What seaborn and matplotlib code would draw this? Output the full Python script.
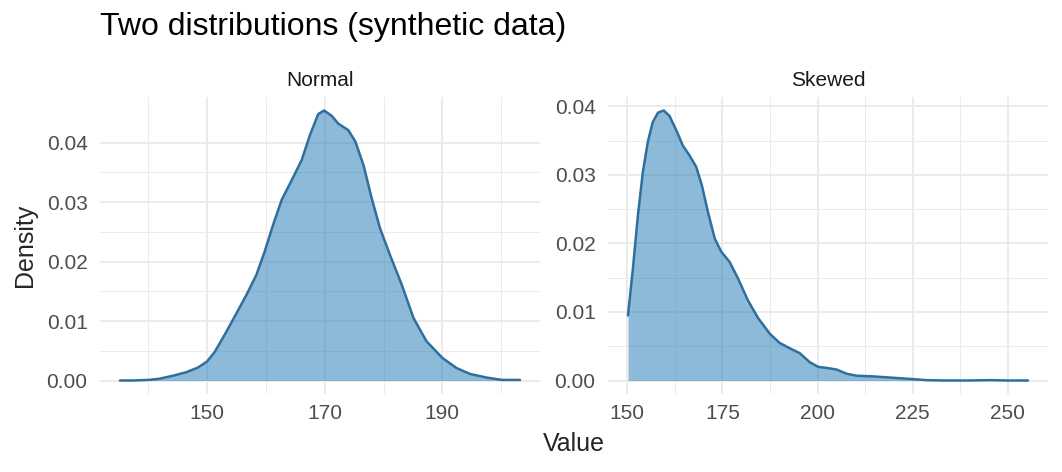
import numpy as np
import pandas as pd
import seaborn as sns
import matplotlib.pyplot as plt
from matplotlib.ticker import FixedLocator, FormatStrFormatter

# density curves
normal_x = [135.2, 137.4, 140.1, 141.9, 144.2, 146.5, 148.5, 150.0, 151.3, 153.0,
            155.0, 156.7, 158.4, 159.8, 161.3, 162.7, 164.4, 166.1, 167.5, 168.9,
            169.9, 171.2, 172.3, 174.0, 175.2, 176.6, 178.0, 179.4, 181.1, 183.1,
            185.1, 187.3, 190.0, 192.4, 194.7, 197.5, 200.1, 203.2]
normal_d = [0.0, 0.0, 0.0001, 0.0003, 0.0008, 0.0014, 0.0022, 0.0032, 0.0048, 0.0077,
            0.0113, 0.0144, 0.0178, 0.0217, 0.0264, 0.0304, 0.0337, 0.0371, 0.0413, 0.0448,
            0.0454, 0.0445, 0.0432, 0.0421, 0.0402, 0.0362, 0.0306, 0.0256, 0.0211, 0.0161,
            0.0105, 0.0066, 0.0038, 0.0021, 0.0011, 0.0005, 0.0001, 0.0001]

skewed_x = [150.2, 151.5, 152.8, 154.1, 155.4, 156.7, 158.1, 159.6, 161.1, 162.9,
            164.6, 166.4, 168.1, 169.6, 171.2, 173.0, 174.7, 176.9, 179.1, 181.7,
            184.4, 187.5, 190.0, 192.7, 195.3, 197.9, 200.1, 202.8, 205.0, 207.6,
            210.2, 214.6, 219.9, 225.1, 228.7, 233.9, 239.2, 245.4, 250.0, 255.3]
skewed_d = [0.0095, 0.0164, 0.0241, 0.0304, 0.0348, 0.0377, 0.0391, 0.0394, 0.0386, 0.0365,
            0.0343, 0.0328, 0.0312, 0.0285, 0.0246, 0.0207, 0.0188, 0.0173, 0.0149, 0.0117,
            0.0091, 0.0068, 0.0055, 0.0047, 0.0040, 0.0027, 0.0020, 0.0018, 0.0016, 0.0010,
            0.0007, 0.0006, 0.0004, 0.0002, 0.00005, 0.0, 0.0, 0.00005, 0.0, 0.0]

panels = ["Normal", "Skewed"]
x_major = [[150, 170, 190], [150, 175, 200, 225, 250]]
x_minor = [[140, 160, 180, 200], [162.5, 187.5, 212.5, 237.5]]
y_major = [0.0, 0.01, 0.02, 0.03, 0.04]
y_minor = [0.005, 0.015, 0.025, 0.035]

line_col = "#2e6f9e"
fill_col = "#1f77b4"

sns.set_theme(style="white")
plt.rcParams["font.family"] = ["Liberation Sans", "DejaVu Sans"]

fig = plt.figure(figsize=(10.62, 4.72), dpi=100)
W, H = 1062, 472
ax1 = fig.add_axes([100 / W, 1 - 394 / H, 440 / W, 297 / H])
ax2 = fig.add_axes([608 / W, 1 - 394 / H, 440 / W, 297 / H])

data = [(normal_x, normal_d), (skewed_x, skewed_d)]
for i, ax in enumerate([ax1, ax2]):
    df = pd.DataFrame({"x": data[i][0], "d": data[i][1]})
    ax.fill_between(df["x"], 0, df["d"], color=fill_col, alpha=0.5, lw=0, zorder=2)
    sns.lineplot(data=df, x="x", y="d", ax=ax, color=line_col, lw=1.8, zorder=3)
    ax.margins(x=0.05, y=0.05)
    ax.xaxis.set_major_locator(FixedLocator(x_major[i]))
    ax.xaxis.set_minor_locator(FixedLocator(x_minor[i]))
    ax.yaxis.set_major_locator(FixedLocator(y_major))
    ax.yaxis.set_minor_locator(FixedLocator(y_minor))
    ax.yaxis.set_major_formatter(FormatStrFormatter("%.2f"))
    ax.grid(which="major", color="#ebebeb", lw=1.4, zorder=0)
    ax.grid(which="minor", color="#ebebeb", lw=0.7, zorder=0)
    ax.set_axisbelow(True)
    for s in ax.spines.values():
        s.set_visible(False)
    ax.tick_params(which="both", length=0, labelsize=15, labelcolor="#4d4d4d")
    ax.tick_params(axis="y", pad=9)
    ax.tick_params(axis="x", pad=7)
    ax.set_xlabel("")
    ax.set_ylabel("")
    ax.set_title(panels[i], fontsize=15, color="#1a1a1a", pad=8)

fig.text(100 / W, 1 - 35 / H, "Two distributions (synthetic data)", fontsize=23,
         ha="left", va="baseline", color="black")
fig.text(574 / W, 1 - 451 / H, "Value", fontsize=18, ha="center", va="baseline")
fig.text(25 / W, 1 - 245 / H, "Density", fontsize=18, ha="center", va="center",
         rotation=90)

fig.savefig("out.png", dpi=100)
